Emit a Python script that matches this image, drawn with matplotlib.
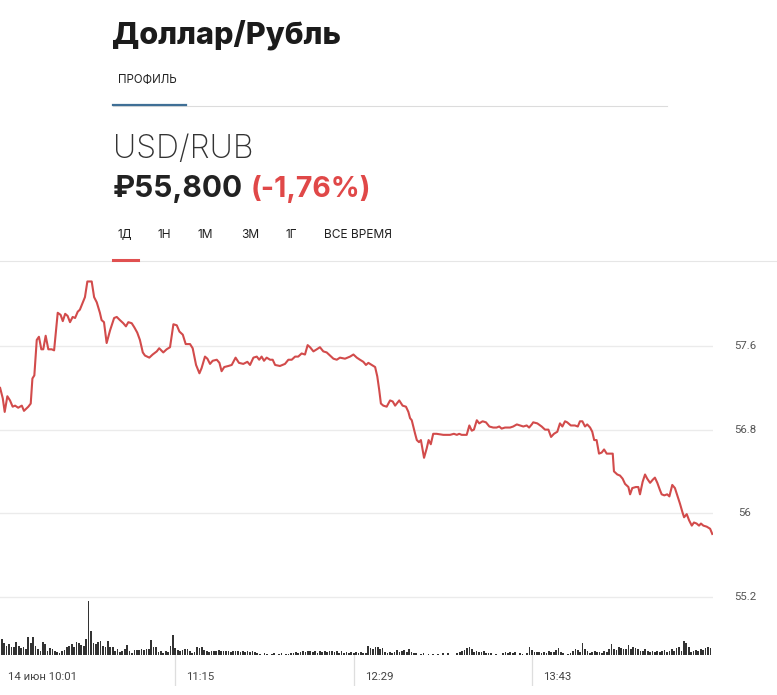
import matplotlib
matplotlib.use("Agg")
import matplotlib.pyplot as plt
from matplotlib import transforms
from matplotlib.lines import Line2D

W, H = 777, 695

# price line: minutes after 10:00 and price
price_t = [2.3, 3.4, 4.2, 5.3, 6.4, 7.5, 8.5, 9.8, 11.3, 12.2,
           14.0, 15.0, 15.7, 16.5, 17.5, 18.4, 19.4, 20.2, 21.2, 22.3,
           23.7, 24.7, 26.2, 27.4, 28.3, 29.3, 30.3, 31.3, 32.4, 33.4,
           34.5, 35.4, 36.6, 37.5, 38.5, 40.3, 41.3, 42.4, 43.7, 44.4,
           45.4, 46.5, 47.9, 49.6, 50.7, 52.0, 53.4, 54.5, 55.5, 56.9,
           58.0, 59.2, 60.3, 61.5, 62.4, 64.2, 65.6, 67.3, 68.3, 70.0,
           71.4, 72.8, 74.2, 75.6, 76.7, 78.1, 79.3, 81.1, 82.2, 83.6,
           85.0, 85.9, 87.3, 88.3, 89.4, 90.5, 92.2, 93.3, 94.2, 95.3,
           97.0, 98.4, 100.0, 101.4, 103.2, 104.9, 106.0, 107.4, 108.8, 109.8,
           110.8, 111.8, 112.9, 114.3, 115.4, 116.4, 118.4, 120.5, 121.9, 123.3,
           124.7, 126.0, 127.4, 128.8, 129.9, 130.9, 132.3, 133.7, 135.0, 136.4,
           137.8, 139.2, 140.6, 142.0, 143.3, 145.4, 147.5, 148.9, 150.3, 151.6,
           153.0, 154.1, 155.1, 156.5, 157.9, 158.8, 159.6, 160.3, 161.3, 162.7,
           164.1, 165.2, 166.2, 167.9, 169.3, 170.7, 171.7, 172.4, 173.1, 174.5,
           175.2, 176.1, 176.9, 178.2, 179.3, 180.1, 181.0, 182.0, 183.4, 186.2,
           189.0, 190.6, 191.8, 192.8, 193.8, 195.9, 197.0, 198.0, 198.9, 200.1,
           201.1, 202.5, 203.9, 205.3, 206.9, 208.3, 209.4, 210.4, 211.8, 213.9,
           215.2, 216.7, 218.0, 219.4, 220.8, 221.8, 222.9, 223.5, 225.2, 227.0,
           228.4, 229.8, 230.9, 232.1, 233.5, 234.6, 235.6, 236.7, 237.6, 239.1,
           240.8, 242.0, 242.9, 243.9, 245.0, 245.9, 247.1, 248.0, 248.8, 249.8,
           250.8, 251.9, 252.9, 254.0, 255.4, 256.5, 257.0, 258.4, 259.5, 260.6,
           261.6, 263.0, 263.7, 264.6, 266.1, 267.1, 267.8, 268.9, 269.9, 270.8,
           272.0, 273.1, 274.0, 275.0, 276.1, 276.8, 277.9, 279.1, 280.0, 281.2,
           282.3, 283.3, 284.4, 285.4, 286.1, 287.2, 288.2, 289.3, 290.2, 291.3,
           292.3, 293.1, 294.1, 295.5, 296.9, 297.8]

prices = [57.20, 57.10, 56.97, 57.12, 57.08, 57.02, 57.03, 57.01, 57.03, 56.98,
          57.02, 57.05, 57.29, 57.32, 57.66, 57.69, 57.57, 57.57, 57.70, 57.57,
          57.57, 57.56, 57.92, 57.90, 57.84, 57.91, 57.89, 57.83, 57.88, 57.87,
          57.93, 57.95, 58.02, 58.07, 58.22, 58.22, 58.07, 58.02, 57.92, 57.85,
          57.83, 57.63, 57.75, 57.87, 57.88, 57.85, 57.82, 57.79, 57.83, 57.82,
          57.78, 57.73, 57.66, 57.54, 57.51, 57.49, 57.52, 57.55, 57.58, 57.54,
          57.57, 57.59, 57.81, 57.80, 57.74, 57.71, 57.62, 57.62, 57.58, 57.42,
          57.34, 57.39, 57.50, 57.48, 57.43, 57.46, 57.47, 57.44, 57.36, 57.40,
          57.41, 57.42, 57.49, 57.44, 57.43, 57.45, 57.42, 57.49, 57.50, 57.47,
          57.50, 57.46, 57.49, 57.47, 57.47, 57.42, 57.41, 57.43, 57.47, 57.47,
          57.50, 57.50, 57.53, 57.52, 57.61, 57.59, 57.55, 57.57, 57.59, 57.55,
          57.54, 57.51, 57.48, 57.47, 57.49, 57.48, 57.50, 57.52, 57.49, 57.47,
          57.45, 57.42, 57.44, 57.42, 57.40, 57.31, 57.18, 57.05, 57.03, 57.02,
          57.08, 57.07, 57.03, 57.08, 57.03, 57.02, 56.97, 56.91, 56.89, 56.76,
          56.70, 56.68, 56.70, 56.53, 56.62, 56.70, 56.66, 56.76, 56.76, 56.75,
          56.75, 56.76, 56.75, 56.76, 56.75, 56.75, 56.84, 56.79, 56.80, 56.89,
          56.86, 56.88, 56.87, 56.83, 56.82, 56.82, 56.83, 56.81, 56.82, 56.82,
          56.83, 56.85, 56.84, 56.83, 56.84, 56.82, 56.85, 56.87, 56.86, 56.83,
          56.80, 56.80, 56.73, 56.76, 56.78, 56.86, 56.83, 56.88, 56.87, 56.84,
          56.84, 56.83, 56.88, 56.88, 56.83, 56.85, 56.82, 56.78, 56.70, 56.70,
          56.57, 56.58, 56.61, 56.57, 56.57, 56.57, 56.40, 56.37, 56.36, 56.33,
          56.28, 56.25, 56.18, 56.24, 56.25, 56.25, 56.18, 56.30, 56.37, 56.33,
          56.29, 56.32, 56.34, 56.29, 56.22, 56.18, 56.17, 56.18, 56.16, 56.27,
          56.24, 56.17, 56.09, 56.01, 55.96, 55.99, 55.93, 55.88, 55.91, 55.90,
          55.88, 55.90, 55.88, 55.87, 55.85, 55.80]

# volume, one bar per minute starting at minute 2
vol_start = 2
volumes = [19, 16, 12, 9, 11, 8, 8, 13, 9, 7, 8, 6, 18, 12, 18, 9, 6, 4, 13, 11,
           4, 7, 6, 4, 3, 2, 4, 5, 8, 9, 11, 8, 13, 12, 10, 9, 16,
           54, 24, 12, 11, 13, 14, 9, 8, 14, 8, 8, 4, 6, 3, 4, 6, 10, 4, 2, 5,
           5, 5, 6, 5, 6, 6, 15, 8, 8, 3, 4, 2, 4, 3, 9,
           20, 7, 5, 4, 5, 6, 6, 4, 2, 3, 8, 7, 8, 5, 4, 3, 4, 4, 4, 5,
           4, 4, 4, 4, 3, 4, 4, 4, 3, 4, 3, 4, 3, 4, 3, 2,
           1, 0, 2, 1, 0, 1, 2, 0, 1, 2, 0, 1, 1,
           2, 2, 3, 2, 3, 4, 3, 4, 4, 3, 4, 2, 4, 3, 4, 3, 4, 4, 3, 4,
           2, 4, 2, 3, 2, 3, 2, 3,
           2, 3, 2, 2,
           9, 7, 6, 8, 8, 6, 7, 3, 2, 3, 2, 3, 5, 3, 4, 5, 3, 6, 3, 2, 2,
           0, 1, 2, 0, 1, 0, 1, 0, 1, 0, 2, 0, 2, 0, 0, 0,
           2, 3, 4, 5, 7, 8, 6, 3, 4, 3, 3, 4, 2, 2, 2,
           0, 1, 0, 0, 2, 3, 2, 3, 2, 3, 0, 2, 1, 0, 2,
           8, 5, 3, 3, 3, 2, 3, 2, 4, 3, 3, 5, 7, 3, 2, 0, 1, 2, 4, 6, 5,
           3,
           12, 6, 4, 2, 3, 4, 3, 3, 2, 4, 3, 6, 11, 6, 5, 8, 7, 6, 6, 10,
           6, 8, 7, 6, 4, 4, 6, 4, 3, 4, 3, 4, 3, 4, 5, 3, 4, 6, 4, 7,
           8, 4, 14, 12, 8, 3, 4, 5, 4, 6, 5, 7, 8,
           7]
vol_t = [vol_start + i for i in range(len(volumes))]

price_ticks = [55.2, 56.0, 56.8, 57.6]
price_tick_labels = ['55.2', '56', '56.8', '57.6']
time_ticks = [1, 75, 149, 223]
time_labels = ['14 июн 10:01', '11:15', '12:29', '13:43']
tabs = ['1Д', '1Н', '1М', '3М', '1Г', 'ВСЕ ВРЕМЯ']
tab_x = [117, 158, 198, 241, 286, 324]

LINE = '#d24b4b'
FONT = ['Inter', 'DejaVu Sans']
SMALL = ['Roboto', 'DejaVu Sans']


def rect(x0, y0, x1, y1):
    return [x0 / W, 1 - y1 / H, (x1 - x0) / W, (y1 - y0) / H]


def fx(x):
    return x / W


def fy(y):
    return 1 - y / H


fig = plt.figure(figsize=(W / 100, H / 100), dpi=100)
fig.patch.set_facecolor('white')

# header
fig.text(fx(112), fy(43), 'Доллар/Рубль', fontsize=22, fontweight='heavy',
         family=FONT, color='#1b1b1b', va='baseline')
fig.text(fx(118), fy(83), 'ПРОФИЛЬ', fontsize=8.3, family=FONT, color='#222', va='baseline')
fig.add_artist(Line2D([fx(113), fx(667)], [fy(106), fy(106)], color='#dcdcdc', lw=0.8))
fig.add_artist(Line2D([fx(113), fx(186)], [fy(105), fy(105)], color='#3f6f96', lw=1.6))
fig.text(fx(113), fy(158), 'USD/RUB', fontsize=23, fontweight='light',
         family=FONT, color='#333', va='baseline')
fig.text(fx(113), fy(197), '₽55,800', fontsize=21.5, fontweight='bold',
         family=FONT, color='#222', va='baseline')
fig.text(fx(251), fy(197), '(-1,76%)', fontsize=20.5, fontweight='bold',
         family=FONT, color='#e04848', va='baseline')
for lab, x in zip(tabs, tab_x):
    fig.text(fx(x), fy(238), lab, fontsize=8.6, family=FONT, color='#222', va='baseline')
fig.add_artist(Line2D([0, 1], [fy(261), fy(261)], color='#e6e6e6', lw=0.8))
fig.add_artist(Line2D([fx(113), fx(138)], [fy(260), fy(260)], color='#e05050', lw=2.2))

# price chart
xlim = (2.25, 298.1)
ax = fig.add_axes(rect(0, 270, 713, 655))
ax.plot(price_t, prices, color=LINE, lw=1.5, solid_joinstyle='round')
ax.set_xlim(*xlim)
ax.set_ylim(54.64, 58.33)
ax.set_yticks(price_ticks)
ax.grid(axis='y', color='#ebebeb', lw=1)
ax.set_xticks([])
ax.tick_params(left=False, labelleft=False)
for s in ax.spines.values():
    s.set_visible(False)
ax.patch.set_alpha(0)
trans = transforms.blended_transform_factory(fig.transFigure, ax.transData)
for v, lab in zip(price_ticks, price_tick_labels):
    ax.text(fx(745), v, lab, transform=trans, ha='center', va='center',
            fontsize=8.2, color='#555', family=SMALL)

# volume
axv = fig.add_axes(rect(0, 600, 713, 655))
axv.bar(vol_t, volumes, width=0.7, color='#333333', linewidth=0)
axv.set_xlim(*xlim)
axv.set_ylim(0, 55)
axv.axis('off')

# time axis
axt = fig.add_axes(rect(0, 655, 713, 686))
axt.set_xlim(*xlim)
axt.set_ylim(0, 1)
axt.axis('off')
off = transforms.offset_copy(axt.transData, fig=fig, x=11 * 0.72, y=0, units='points')
for t, lab in zip(time_ticks, time_labels):
    axt.axvline(t, color='#dedede', lw=0.9)
    axt.text(t, 0.3, lab, transform=off, ha='left', va='center', fontsize=8.2,
             color='#444', family=SMALL, clip_on=False)

fig.savefig('out.png', dpi=100, facecolor='white')
